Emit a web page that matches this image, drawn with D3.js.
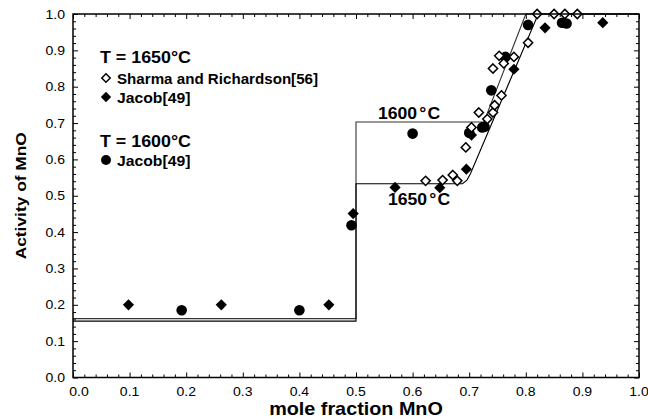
<!DOCTYPE html>
<html>
<head>
<meta charset="utf-8">
<script src="https://cdn.jsdelivr.net/npm/d3@7"></script>
<style>
  body { margin: 0; background: #fff; }
  text { font-family: "Liberation Sans", Arial, Helvetica, sans-serif; fill: #000; }
</style>
</head>
<body>
<svg id="chart" width="648" height="419"></svg>
<script>
// Axis ticks
const tickValues = [0, 0.1, 0.2, 0.3, 0.4, 0.5, 0.6, 0.7, 0.8, 0.9, 1.0];
const tickLabels = ["0.0", "0.1", "0.2", "0.3", "0.4", "0.5", "0.6", "0.7", "0.8", "0.9", "1.0"];

// Sharma and Richardson [56], 1650 °C (open diamonds)
const sharmaX = [0.623, 0.653, 0.671, 0.679, 0.694, 0.704, 0.717, 0.732, 0.742, 0.745, 0.757, 0.742, 0.753, 0.761, 0.779, 0.804, 0.820, 0.850, 0.869, 0.891];
const sharmaY = [0.541, 0.543, 0.557, 0.541, 0.633, 0.688, 0.729, 0.711, 0.729, 0.749, 0.776, 0.850, 0.885, 0.864, 0.882, 0.921, 1.000, 1.000, 1.000, 1.000];

// Jacob [49], 1650 °C (filled diamonds)
const jacob1650X = [0.098, 0.262, 0.452, 0.495, 0.569, 0.648, 0.695, 0.704, 0.779, 0.834, 0.936];
const jacob1650Y = [0.200, 0.200, 0.200, 0.451, 0.523, 0.522, 0.573, 0.667, 0.848, 0.962, 0.976];

// Jacob [49], 1600 °C (filled circles)
const jacob1600X = [0.192, 0.400, 0.492, 0.600, 0.700, 0.723, 0.727, 0.739, 0.764, 0.804, 0.864, 0.872];
const jacob1600Y = [0.185, 0.185, 0.419, 0.671, 0.673, 0.688, 0.690, 0.790, 0.882, 0.970, 0.976, 0.974];

// Calculated activity curves
const curve1650X = [0.0, 0.5, 0.5, 0.688, 0.696, 0.702, 0.822, 1.0];
const curve1650Y = [0.155, 0.155, 0.533, 0.533, 0.543, 0.560, 1.0, 1.0];
const curve1600X = [0.0, 0.5, 0.5, 0.726, 0.800, 1.0];
const curve1600Y = [0.162, 0.162, 0.703, 0.703, 1.0, 1.0];

const svg = d3.select("#chart");
const plotLeft = 73, plotRight = 639, plotTop = 14, plotBottom = 377.5;

const x = d3.scaleLinear().domain([0, 1]).range([plotLeft, plotRight]);
const y = d3.scaleLinear().domain([0, 1]).range([plotBottom, plotTop]);

const zip = (xs, ys) => xs.map((v, i) => [v, ys[i]]);
const minor = d3.range(0, 1.0001, 0.02).filter(v => Math.abs(v * 10 - Math.round(v * 10)) > 1e-6);

// Inward ticks on all four sides
function ticks(axisGen, transform, values, size) {
  svg.append("g").attr("transform", transform)
    .call(axisGen.tickValues(values).tickSize(size).tickFormat(""))
    .call(g => g.select(".domain").remove())
    .call(g => g.selectAll("line").attr("stroke", "#000").attr("stroke-width", 1));
}
ticks(d3.axisTop(x), `translate(0,${plotBottom})`, tickValues, 5);
ticks(d3.axisTop(x), `translate(0,${plotBottom})`, minor, 3);
ticks(d3.axisBottom(x), `translate(0,${plotTop})`, tickValues, 5);
ticks(d3.axisBottom(x), `translate(0,${plotTop})`, minor, 3);
ticks(d3.axisRight(y), `translate(${plotLeft},0)`, tickValues, 5);
ticks(d3.axisRight(y), `translate(${plotLeft},0)`, minor, 3);
ticks(d3.axisLeft(y), `translate(${plotRight},0)`, tickValues, 5);
ticks(d3.axisLeft(y), `translate(${plotRight},0)`, minor, 3);

// Text helper with slight horizontal widening
function label(px, py, str, size, anchor, opts = {}) {
  const sx = opts.sx || 1.12;
  const rot = opts.rotate ? " rotate(-90)" : "";
  return svg.append("text")
    .attr("transform", `translate(${px},${py})${rot} scale(${sx},1)`)
    .attr("font-size", size)
    .attr("font-weight", opts.bold ? "bold" : "normal")
    .attr("text-anchor", anchor)
    .text(str);
}

// Temperature label: number, raised degree sign, then C
function tempLabel(px, py, num, size, sx) {
  const t = label(px, py, "", size, "start", { bold: true, sx });
  t.append("tspan").text(num);
  t.append("tspan").attr("dx", 2).text("°");
  t.append("tspan").attr("dx", 1).text("C");
  return t;
}

// Tick labels
tickValues.forEach((v, i) => {
  label(x(v) + (i === 0 ? 6 : 0), 396, tickLabels[i], 13, "middle", { sx: 1.08 });
  label(65, y(v) + 4.6, tickLabels[i], 13, "end", { sx: 1.08 });
});

// Axis titles
label((plotLeft + plotRight) / 2, 415, "mole fraction MnO", 18, "middle", { bold: true, sx: 1.1 });
label(26, (plotTop + plotBottom) / 2, "Activity of MnO", 15.5, "middle", { bold: true, rotate: true, sx: 1.12 });

// Curves
const line = d3.line().x(d => x(d[0])).y(d => y(d[1]));
svg.append("path").datum(zip(curve1600X, curve1600Y))
  .attr("d", line).attr("fill", "none").attr("stroke", "#333").attr("stroke-width", 1.1);
svg.append("path").datum(zip(curve1650X, curve1650Y))
  .attr("d", line).attr("fill", "none").attr("stroke", "#000").attr("stroke-width", 1.1);

// Markers
const diamond = r => `M0,${-r}L${r},0L0,${r}L${-r},0Z`;
svg.append("g").selectAll("path").data(zip(jacob1650X, jacob1650Y)).join("path")
  .attr("transform", d => `translate(${x(d[0])},${y(d[1])})`)
  .attr("d", diamond(5.6)).attr("fill", "#000");
svg.append("g").selectAll("circle").data(zip(jacob1600X, jacob1600Y)).join("circle")
  .attr("cx", d => x(d[0])).attr("cy", d => y(d[1])).attr("r", 5.3).attr("fill", "#000");
svg.append("g").selectAll("path").data(zip(sharmaX, sharmaY)).join("path")
  .attr("transform", d => `translate(${x(d[0])},${y(d[1])})`)
  .attr("d", diamond(4.6)).attr("fill", "#fff").attr("stroke", "#000").attr("stroke-width", 1.5);

// Frame
svg.append("rect").attr("x", plotLeft).attr("y", plotTop)
  .attr("width", plotRight - plotLeft).attr("height", plotBottom - plotTop)
  .attr("fill", "none").attr("stroke", "#000").attr("stroke-width", 1.5);

// Curve labels
tempLabel(378, 119, "1600", 16, 1.1);
tempLabel(388, 205, "1650", 16, 1.1);

// Legend
label(100, 63, "T = 1650°C", 17, "start", { bold: true, sx: 1.05 });
svg.append("path").attr("transform", "translate(106,78)").attr("d", diamond(4.2))
  .attr("fill", "#fff").attr("stroke", "#000").attr("stroke-width", 1.5);
label(117, 83.5, "Sharma and Richardson[56]", 15, "start", { bold: true, sx: 1.01 });
svg.append("path").attr("transform", "translate(106,97)").attr("d", diamond(5.2)).attr("fill", "#000");
label(117, 102.5, "Jacob[49]", 15, "start", { bold: true, sx: 1.05 });
label(100, 147, "T = 1600°C", 17, "start", { bold: true, sx: 1.05 });
svg.append("circle").attr("cx", 106).attr("cy", 160).attr("r", 5).attr("fill", "#000");
label(117, 165.5, "Jacob[49]", 15, "start", { bold: true, sx: 1.05 });
</script>
</body>
</html>
